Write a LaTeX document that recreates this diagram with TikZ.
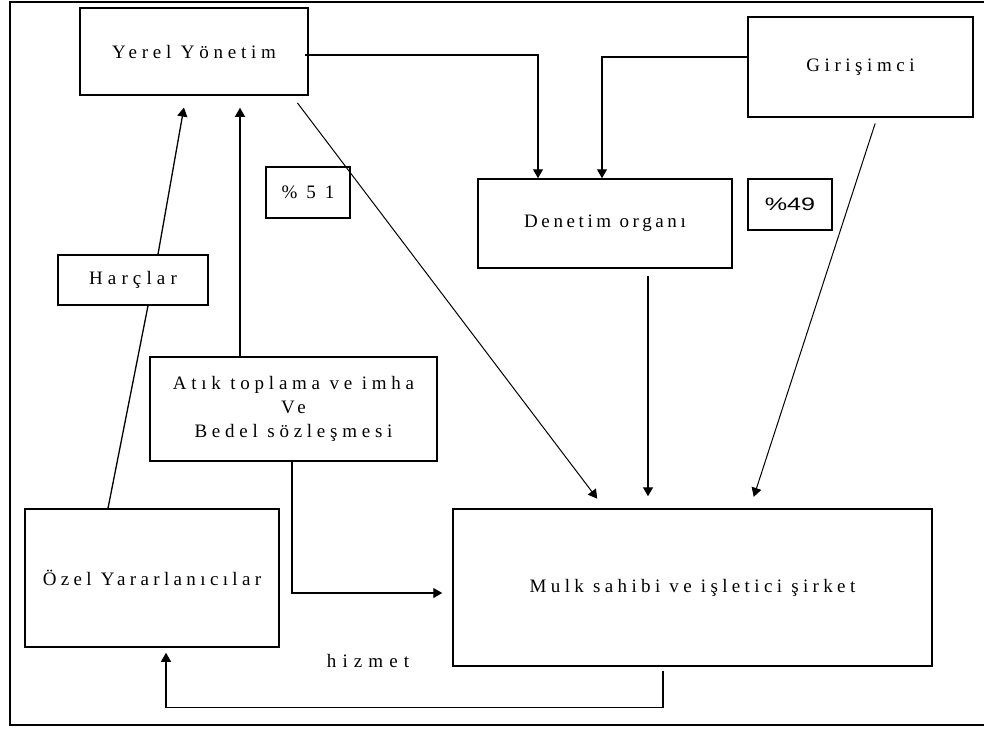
\documentclass[tikz,border=0pt]{standalone}
\usepackage{fontspec}
\setmainfont{Liberation Serif}
\newfontfamily\sansf{Liberation Sans}
\usetikzlibrary{arrows.meta}
\newcommand\lspc[1]{\addfontfeatures{LetterSpace=#1}}
\begin{document}
\begin{tikzpicture}[x=1pt,y=-1pt,
  box/.style={draw,line width=1.5pt,inner sep=0pt,align=center,
    font=\fontsize{19}{24}\selectfont\lspc{25}},
  ls/.style={font=\fontsize{19}{24}\selectfont\lspc{#1}},
  lbl/.style={inner sep=0pt},
  ln/.style={line width=1.3pt},
  arr/.style={ln,-{Triangle[length=9pt,width=10pt]}}]
\useasboundingbox (0,0) rectangle (984,729);
\draw[line width=2.2pt] (984,2) -- (10,2) -- (10,725) -- (984,725);

\node[box,ls=25,minimum width=228pt,minimum height=87pt] (yerel) at (194,51.5) {Yerel Yönetim};
\node[box,ls=24,minimum width=225pt,minimum height=100pt] (giri) at (860.5,67) {Girişimci};
\node[box,ls=19,minimum width=254pt,minimum height=89pt] (denetim) at (605,223.5) {Denetim organı};
\node[box,ls=47,minimum width=84pt,minimum height=51pt] (p51) at (308,192.5) {\%51};
\node[box,minimum width=84pt,minimum height=51pt,font=\sansf\fontsize{18}{22}\selectfont] (p49) at (790,204.5) {\scalebox{1.4}[1]{\%49}};
\node[box,ls=27,minimum width=150pt,minimum height=50pt] (harc) at (133,280) {Harçlar};
\node[box,ls=25,minimum width=287pt,minimum height=104pt] (atik) at (293.5,409) {Atık toplama ve imha\\Ve\\Bedel sözleşmesi};
\node[box,ls=23,minimum width=254pt,minimum height=138pt] (ozel) at (152,578) {Özel Yararlanıcılar};
\node[box,ls=23,minimum width=479pt,minimum height=157pt] (mulk) at (692.5,587.5) {Mulk sahibi ve işletici şirket};
\node[lbl,ls=32] (hizmet) at (368,661) {hizmet};

% Yerel -> Denetim
\draw[arr] ([xshift=-4pt,yshift=-3.5pt]yerel.east) -| ([xshift=-67pt]denetim.north);
% Girisimci -> Denetim
\draw[arr] ([yshift=10pt]giri.west) -| ([xshift=-3pt]denetim.north);
% Yerel -> Mulk
\draw[arr,line width=1pt,shorten <=9pt,shorten >=12pt] ([xshift=98pt]yerel.south) -- ([xshift=-88pt]mulk.north);
% Denetim -> Mulk
\draw[arr,shorten <=7pt,shorten >=12pt] ([xshift=43pt]denetim.south) -- ([xshift=-44.5pt]mulk.north);
% Girisimci -> Mulk
\draw[arr,line width=1pt,shorten <=6pt,shorten >=12pt] ([xshift=16.5pt]giri.south) -- ([xshift=57.5pt]mulk.north);
% Harclar -> Yerel
\draw[arr,shorten >=12pt] ([xshift=25pt]harc.north) -- ([xshift=-8pt]yerel.south);
% Ozel -> Harclar
\draw[ln] ([xshift=-44pt]ozel.north) -- ([xshift=15pt]harc.south);
% Atik -> Yerel
\draw[arr,shorten >=12pt] ([xshift=-53.5pt]atik.north) -- ([xshift=46pt]yerel.south);
% Atik -> Mulk
\draw[arr,shorten >=10pt] ([xshift=-1.5pt]atik.south) |- ([yshift=-5.5pt]mulk.west);
% Mulk -> Ozel (hizmet)
\draw[arr,shorten <=4pt,shorten >=5pt] ([xshift=-29.5pt]mulk.south) -- ++(0,41) -| ([xshift=14pt]ozel.south);
\end{tikzpicture}
\end{document}
